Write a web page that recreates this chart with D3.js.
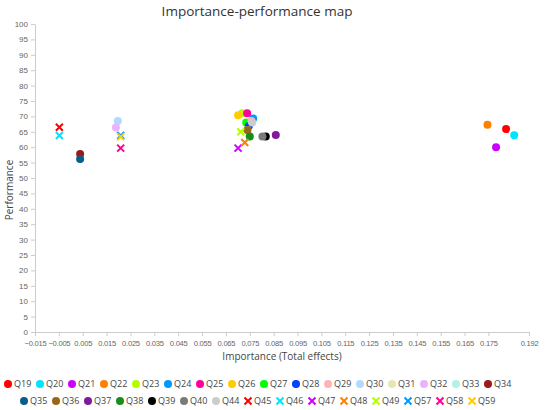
<!DOCTYPE html>
<html>
<head>
<meta charset="utf-8">
<script src="https://cdn.jsdelivr.net/npm/d3@7"></script>
<style>
  body { margin: 0; background: #fff; }
  svg { font-family: "Open Sans", "Noto Sans", sans-serif; }
</style>
</head>
<body>
<div id="chart"></div>
<script>
// data
const names = ["Q19","Q20","Q21","Q22","Q23","Q24","Q25","Q26","Q27","Q28","Q29","Q30","Q31","Q32","Q33","Q34",
               "Q35","Q36","Q37","Q38","Q39","Q40","Q44","Q45","Q46","Q47","Q48","Q49","Q57","Q58","Q59"];
const importance = [0.1824, 0.1858, 0.1782, 0.1746, 0.0718, 0.0764, 0.0739, 0.0701, 0.0735, 0.0746, 0.0757, 0.0197, 0.0740, 0.0189, 0.0750, 0.0039,
                    0.0039, 0.0740, 0.0859, 0.0750, 0.0817, 0.0803, 0.0760, -0.0048, -0.0048, 0.0701, 0.0729, 0.0712, 0.0209, 0.0209, 0.0209];
const performance = [65.9, 63.9, 60.0, 67.3, 71.0, 69.3, 71.0, 70.4, 68.0, 66.9, 68.5, 68.5, 65.6, 66.4, 63.5, 57.8,
                     56.2, 65.6, 64.0, 63.5, 63.5, 63.5, 68.0, 66.5, 63.8, 59.7, 61.5, 65.0, 63.8, 59.7, 63.4];
const xTicks = [-0.015, -0.005, 0.005, 0.015, 0.025, 0.035, 0.045, 0.055, 0.065, 0.075, 0.085, 0.095,
                0.105, 0.115, 0.125, 0.135, 0.145, 0.155, 0.165, 0.175, 0.192];
const yTicks = d3.range(0, 101, 5);

// colour cycle (23 colours, then repeats with an x marker)
const palette = ["#ff0000","#00e5ff","#cc00ff","#ff8000","#b3ff00","#0099ff","#ff0099","#ffcc00","#00ff00","#0040ff",
                 "#ffb3b3","#b3d9ff","#e6e6b3","#ebb3ff","#b3f0e6","#991a1a","#0a5c8a","#996619","#801a99","#1a8c1a",
                 "#000000","#7a7a7a","#cccccc"];

const width = 550, height = 410;
const margin = {left: 35, right: 21, top: 24, bottom: 78};

const data = names.map((n, i) => ({
  name: n, x: importance[i], y: performance[i],
  color: i < 23 ? palette[i] : palette[i - 23],
  cross: i >= 23
}));

const svg = d3.select("#chart").append("svg")
  .attr("width", width).attr("height", height);

const x = d3.scaleLinear().domain([-0.015, 0.192]).range([margin.left, width - margin.right]);
const y = d3.scaleLinear().domain([0, 100]).range([height - margin.bottom, margin.top]);

// title
svg.append("text")
  .attr("x", 257).attr("y", 16)
  .attr("text-anchor", "middle")
  .style("font-size", "13.5px").style("fill", "#333")
  .text("Importance-performance map");

// axes
const xAxis = svg.append("g")
  .attr("transform", `translate(0, ${height - margin.bottom})`)
  .call(d3.axisBottom(x).tickValues(xTicks).tickFormat(d3.format(".3f")).tickSize(4).tickSizeOuter(0));
const yAxis = svg.append("g")
  .attr("transform", `translate(${margin.left}, 0)`)
  .call(d3.axisLeft(y).tickValues(yTicks).tickSize(4).tickSizeOuter(0));

[xAxis, yAxis].forEach(g => {
  g.select(".domain").attr("stroke", "#ccc");
  g.selectAll(".tick line").attr("stroke", "#ccc");
  g.selectAll(".tick text").style("font-size", "8px").attr("fill", "#666").style("font-family", "inherit");
});
xAxis.selectAll(".tick text").attr("dy", "0.9em").style("font-size", "7.6px").style("letter-spacing", "-0.25px");

svg.append("text")
  .attr("x", (margin.left + width - margin.right) / 2).attr("y", 360)
  .attr("text-anchor", "middle")
  .style("font-size", "10px").style("fill", "#444")
  .text("Importance (Total effects)");

svg.append("text")
  .attr("transform", `translate(13, ${(margin.top + height - margin.bottom) / 2 + 12}) rotate(-90)`)
  .attr("text-anchor", "middle")
  .style("font-size", "10px").style("fill", "#444")
  .text("Performance");

// markers
function drawMarker(g, d) {
  if (d.cross) {
    g.append("path")
      .attr("d", "M-3.5,-3.5L3.5,3.5M-3.5,3.5L3.5,-3.5")
      .attr("stroke", d.color).attr("stroke-width", 2).attr("fill", "none");
  } else {
    g.append("circle").attr("r", 4).attr("fill", d.color);
  }
}

svg.append("g").selectAll("g")
  .data(data)
  .enter().append("g")
  .attr("transform", d => `translate(${x(d.x)}, ${y(d.y)})`)
  .each(function(d) { drawMarker(d3.select(this), d); });

// legend, two rows
const legendRows = [data.slice(0, 16), data.slice(16)];
const rowStart = [8, 24], rowY = [384, 401];
legendRows.forEach((row, r) => {
  const items = svg.append("g").selectAll("g")
    .data(row)
    .enter().append("g")
    .attr("transform", (d, i) => `translate(${rowStart[r] + i * 32}, ${rowY[r]})`);
  items.each(function(d) { drawMarker(d3.select(this), d); });
  items.append("text")
    .attr("x", 6).attr("dy", "0.35em")
    .style("font-size", "9px").style("fill", "#444")
    .text(d => d.name);
});
</script>
</body>
</html>
